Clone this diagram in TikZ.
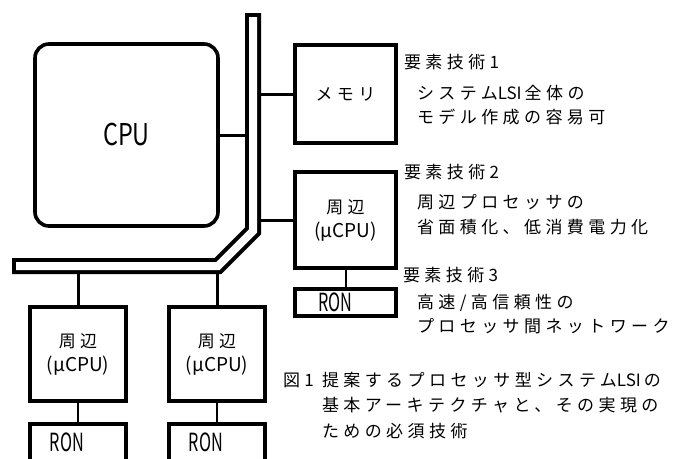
\documentclass[tikz,border=0pt]{standalone}
\usepackage{fontspec}
\newfontfamily\jp[LetterSpace=26]{Noto Sans CJK JP}
\newfontfamily\jpn{Noto Sans CJK JP}
\newcommand\latn[1]{{\jpn #1\hspace{3pt}}}
\newcommand\mucpu{{\jpn\fontsize{19}{24}\selectfont (μCPU)}}
\begin{document}
\begin{tikzpicture}[x=1pt,y=-1pt,
  box/.style={draw, line width=3.6pt, inner sep=0pt, outer sep=0pt},
  conn/.style={line width=3pt},
  thinconn/.style={line width=2pt},
  txt/.style={anchor=west, inner sep=0pt, outer sep=0pt, align=left, font=\jp\fontsize{17}{24.5}\selectfont},
  boxtxt/.style={font=\jp\fontsize{17}{24}\selectfont, align=center},
  rontxt/.style={inner sep=0pt, font=\jpn\fontsize{25}{25}\selectfont}
]
\useasboundingbox (0,0) rectangle (676,458);
\clip (0,0) rectangle (676,458);
\fill[white] (0,0) rectangle (676,458);

% bus
\coordinate (bt) at (253,13);
\coordinate (bti) at (253,17);
\coordinate (b1) at (253,231);
\coordinate (b2) at (218,266);
\coordinate (bl) at (12,266);
\coordinate (bli) at (16,266);
\coordinate (busL) at (246,0);
\coordinate (busR) at (260,0);
\coordinate (busB) at (0,273);

% boxes
\node[box, rounded corners=14pt, minimum width=183pt, minimum height=182pt] (cpu) at (126.5,135)
  {\jpn\fontsize{30}{30}\selectfont\scalebox{0.78}[1]{CPU}};
\node[box, minimum width=101pt, minimum height=98pt, boxtxt] (mem) at (345.5,94) {\raisebox{-5pt}{メモリ}};
\node[box, minimum width=101pt, minimum height=96pt, boxtxt] (per0) at (345.5,220) {周辺\\\mucpu};
\node[box, minimum width=101pt, minimum height=27pt] (ron0) at (345.5,302.5) {};
\node[box, minimum width=96pt, minimum height=94pt, boxtxt] (per1) at (78,354) {周辺\\\mucpu};
\node[box, minimum width=96pt, minimum height=94pt, boxtxt] (per2) at (217,354) {周辺\\\mucpu};
\node[box, minimum width=96pt, minimum height=38pt] (ron1) at (78,443) {};
\node[box, minimum width=96pt, minimum height=38pt] (ron2) at (217,443) {};

\node[rontxt] (r0t) at ([xshift=-10pt]ron0.center) {\scalebox{0.65}[1]{RON}};
\node[rontxt] (r1t) at ([xshift=-11pt,yshift=1pt]ron1.center) {\scalebox{0.65}[1]{RON}};
\node[rontxt] (r2t) at ([xshift=-11pt,yshift=1pt]ron2.center) {\scalebox{0.65}[1]{RON}};

% connectors
\draw[conn] (cpu.east) -- (cpu.east -| busL);
\draw[conn] (mem.west) -- (mem.west -| busR);
\draw[conn] (per0.west) -- (per0.west -| busR);
\draw[conn] (per1.north) -- (per1.north |- busB);
\draw[conn] (per2.north) -- (per2.north |- busB);
\draw[thinconn] (per0.south) -- (ron0.north);
\draw[thinconn] (per1.south) -- (ron1.north);
\draw[thinconn] (per2.south) -- (ron2.north);

\draw[line width=16pt, line join=miter] (bt) -- (b1) -- (b2) -- (bl);
\draw[white, line width=8pt, line join=miter] (bti) -- (b1) -- (b2) -- (bli);

% texts
\node[txt] (h1) at (404,62) {要素技術1};
\node[txt] (t1) at (417,105) {システム\latn{LSI}全体の\\モデル作成の容易可};
\node[txt] (h2) at (404,172) {要素技術2};
\node[txt] (t2) at (417,214.5) {周辺プロセッサの\\省面積化、低消費電力化};
\node[txt] (h3) at (403,275) {要素技術3};
\node[txt] (t3) at (417,314) {高速/高信頼性の\\プロセッサ間ネットワーク};
\node[txt] (c0) at (283,380) {図1};
\node[txt, font=\jp\fontsize{17}{25.5}\selectfont] (c1) at (322,405.5) {提案するプロセッサ型システム\latn{LSI}の\\基本アーキテクチャと、その実現の\\ための必須技術};
\end{tikzpicture}
\end{document}
